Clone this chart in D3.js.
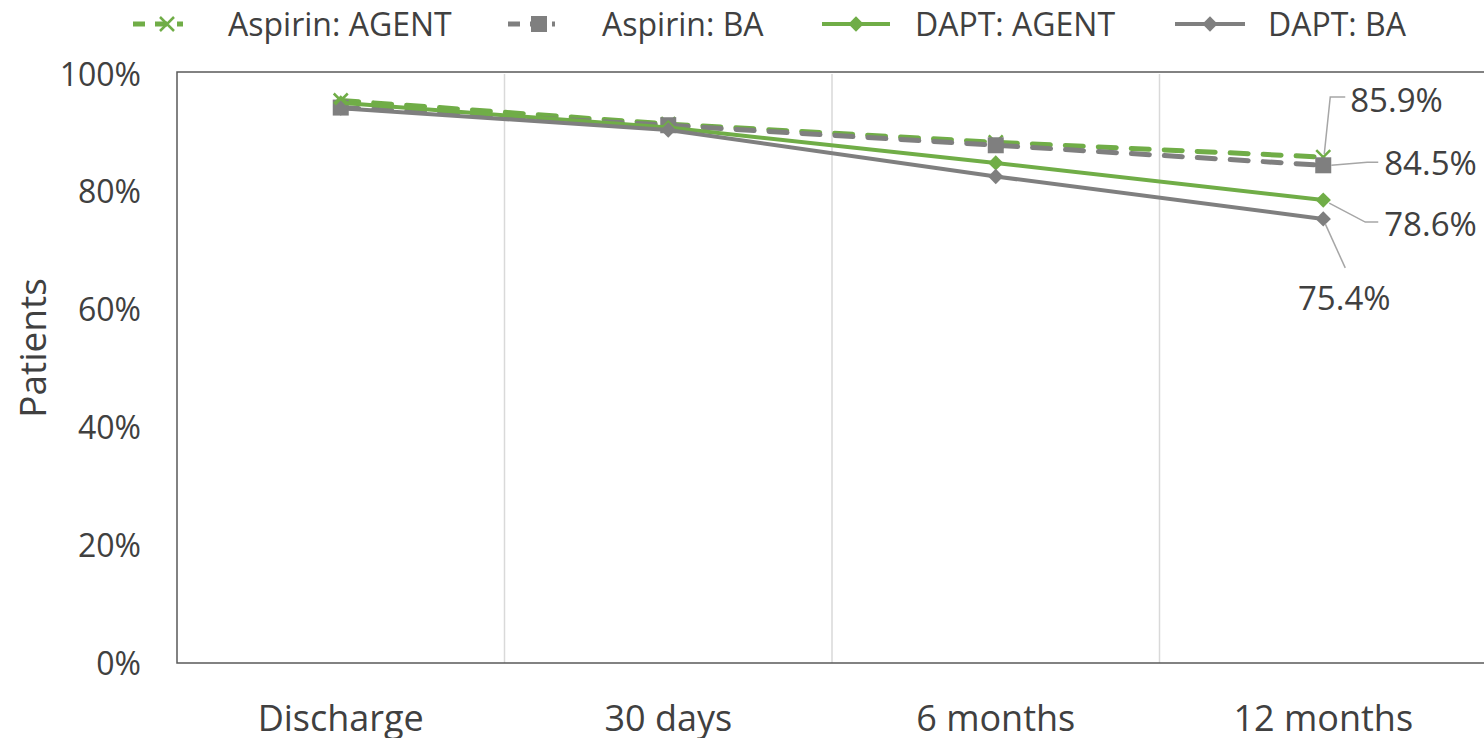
<!DOCTYPE html>
<meta charset="utf-8">
<script src="https://d3js.org/d3.v7.min.js"></script>
<style>
  body { margin: 0; background: #fff; }
  text { font-family: "Open Sans", sans-serif; fill: #404040; }
</style>
<div id="chart"></div>
<script>
    const categories = ["Discharge", "30 days", "6 months", "12 months"];
    const seriesNames = ["Aspirin: AGENT", "Aspirin: BA", "DAPT: AGENT", "DAPT: BA"];
    const aspirinAgent = [95.5, 91.5, 88.4, 85.9];
    const aspirinBA = [94.3, 91.3, 87.9, 84.5];
    const daptAgent = [95.1, 90.9, 84.9, 78.6];
    const daptBA = [94.2, 90.5, 82.6, 75.4];
    const yTicks = [0, 20, 40, 60, 80, 100];

    const width = 1484, height = 738;
    const margin = {top: 74, right: -3, bottom: 75, left: 177};

    const svg = d3.select("#chart")
        .append("svg")
            .attr("width", width)
            .attr("height", height);

    const x = d3.scaleBand()
        .domain(categories)
        .range([margin.left, width - margin.right]);

    const y = d3.scaleLinear()
        .domain([0, 100])
        .range([height - margin.bottom, margin.top]);

    const green = "#70AD47", grey = "#7F7F7F";

    const series = [
        {name: seriesNames[0], values: aspirinAgent, color: green, dash: "18,15", marker: "x"},
        {name: seriesNames[1], values: aspirinBA, color: grey, dash: "18,15", marker: "square"},
        {name: seriesNames[2], values: daptAgent, color: green, dash: null, marker: "diamond"},
        {name: seriesNames[3], values: daptBA, color: grey, dash: null, marker: "diamond"}
    ];

    // vertical gridlines between categories
    svg.append("g")
        .selectAll("line")
        .data(categories.slice(1))
        .join("line")
            .attr("x1", d => x(d))
            .attr("x2", d => x(d))
            .attr("y1", y(100))
            .attr("y2", y(0))
            .attr("stroke", "#D9D9D9")
            .attr("stroke-width", 1.5);

    // plot frame
    svg.append("rect")
        .attr("x", margin.left)
        .attr("y", y(100) - 2)
        .attr("width", width - margin.left + 10)
        .attr("height", y(0) - y(100) + 2)
        .attr("fill", "none")
        .attr("stroke", "#595959")
        .attr("stroke-width", 1.5);

    // y axis labels
    svg.append("g")
        .selectAll("text")
        .data(yTicks)
        .join("text")
            .attr("x", 141)
            .attr("y", d => y(d))
            .attr("dy", "0.36em")
            .attr("text-anchor", "end")
            .style("font-size", "32px")
            .text(d => d + "%");

    // x axis labels
    svg.append("g")
        .selectAll("text")
        .data(categories)
        .join("text")
            .attr("x", d => x(d) + x.bandwidth() / 2)
            .attr("y", 718)
            .attr("dy", "0.36em")
            .attr("text-anchor", "middle")
            .style("font-size", "36px")
            .text(d => d);

    svg.append("text")
        .attr("transform", "translate(33,348) rotate(-90)")
        .attr("dy", "0.36em")
        .attr("text-anchor", "middle")
        .style("font-size", "37px")
        .text("Patients");

    const cx = (d, i) => x(categories[i]) + x.bandwidth() / 2;

    function drawMarker(g, type, color) {
        if (type === "x") {
            g.append("path")
                .attr("d", "M-7,-7L7,7M-7,7L7,-7")
                .attr("stroke", color)
                .attr("stroke-width", 2.5)
                .attr("fill", "none");
        } else if (type === "square") {
            g.append("rect")
                .attr("x", -8).attr("y", -8)
                .attr("width", 16).attr("height", 16)
                .attr("fill", color);
        } else {
            g.append("path")
                .attr("d", d3.symbol(d3.symbolDiamond2, 150)())
                .attr("fill", color);
        }
    }

    const line = d3.line()
        .x(cx)
        .y(d => y(d));

    series.forEach(s => {
        svg.append("path")
            .datum(s.values)
            .attr("d", line)
            .attr("fill", "none")
            .attr("stroke", s.color)
            .attr("stroke-width", s.dash ? 5 : 4)
            .attr("stroke-linecap", s.dash ? "round" : "butt")
            .attr("stroke-dasharray", s.dash);
        s.values.forEach((v, i) => {
            const g = svg.append("g")
                .attr("transform", `translate(${cx(v, i)},${y(v)})`);
            drawMarker(g, s.marker, s.color);
        });
    });

    // data labels for the last point with leader lines
    const last = categories.length - 1;
    const px = cx(null, last);
    const labels = [
        {v: aspirinAgent[last], path: (X, Y) => `M${X + 1},${Y - 3}L${X + 7},${97}L${X + 22},${97}`, lx: px + 27, ly: 100, anchor: "start"},
        {v: aspirinBA[last], path: (X, Y) => `M${X + 8},${Y}L${X + 44},${Y - 3}L${X + 55},${Y - 3}`, lx: px + 61, ly: y(aspirinBA[last]) - 2, anchor: "start"},
        {v: daptAgent[last], path: (X, Y) => `M${X + 6},${Y + 3}L${X + 42},${Y + 22}L${X + 55},${Y + 22}`, lx: px + 61, ly: y(daptAgent[last]) + 24, anchor: "start"},
        {v: daptBA[last], path: (X, Y) => `M${X + 2},${Y + 5}L${X + 22},${Y + 49}`, lx: px + 21, ly: y(daptBA[last]) + 79, anchor: "middle"}
    ];

    labels.forEach(l => {
        svg.append("path")
            .attr("d", l.path(px, y(l.v)))
            .attr("fill", "none")
            .attr("stroke", "#A6A6A6")
            .attr("stroke-width", 1.5);
        svg.append("text")
            .attr("x", l.lx)
            .attr("y", l.ly)
            .attr("dy", "0.36em")
            .attr("text-anchor", l.anchor)
            .style("font-size", "33px")
            .text(l.v.toFixed(1) + "%");
    });

    // legend
    const legendX = [133, 508, 822, 1175];
    const legendLen = [50, 47, 68, 70];
    const legend = svg.append("g");
    series.forEach((s, i) => {
        const g = legend.append("g").attr("transform", `translate(${legendX[i]},24)`);
        g.append("line")
            .attr("x1", 0).attr("x2", legendLen[i])
            .attr("stroke", s.color)
            .attr("stroke-width", s.dash ? 5 : 4)
            .attr("stroke-dasharray", s.dash ? "12,10" : null);
        const m = g.append("g").attr("transform", `translate(${s.dash ? legendLen[i] - 16 : legendLen[i] / 2},0)`);
        drawMarker(m, s.marker, s.color);
        g.append("text")
            .attr("x", [95, 94, 93, 93][i])
            .attr("dy", "0.36em")
            .style("font-size", "32px")
            .text(s.name);
    });
</script>
